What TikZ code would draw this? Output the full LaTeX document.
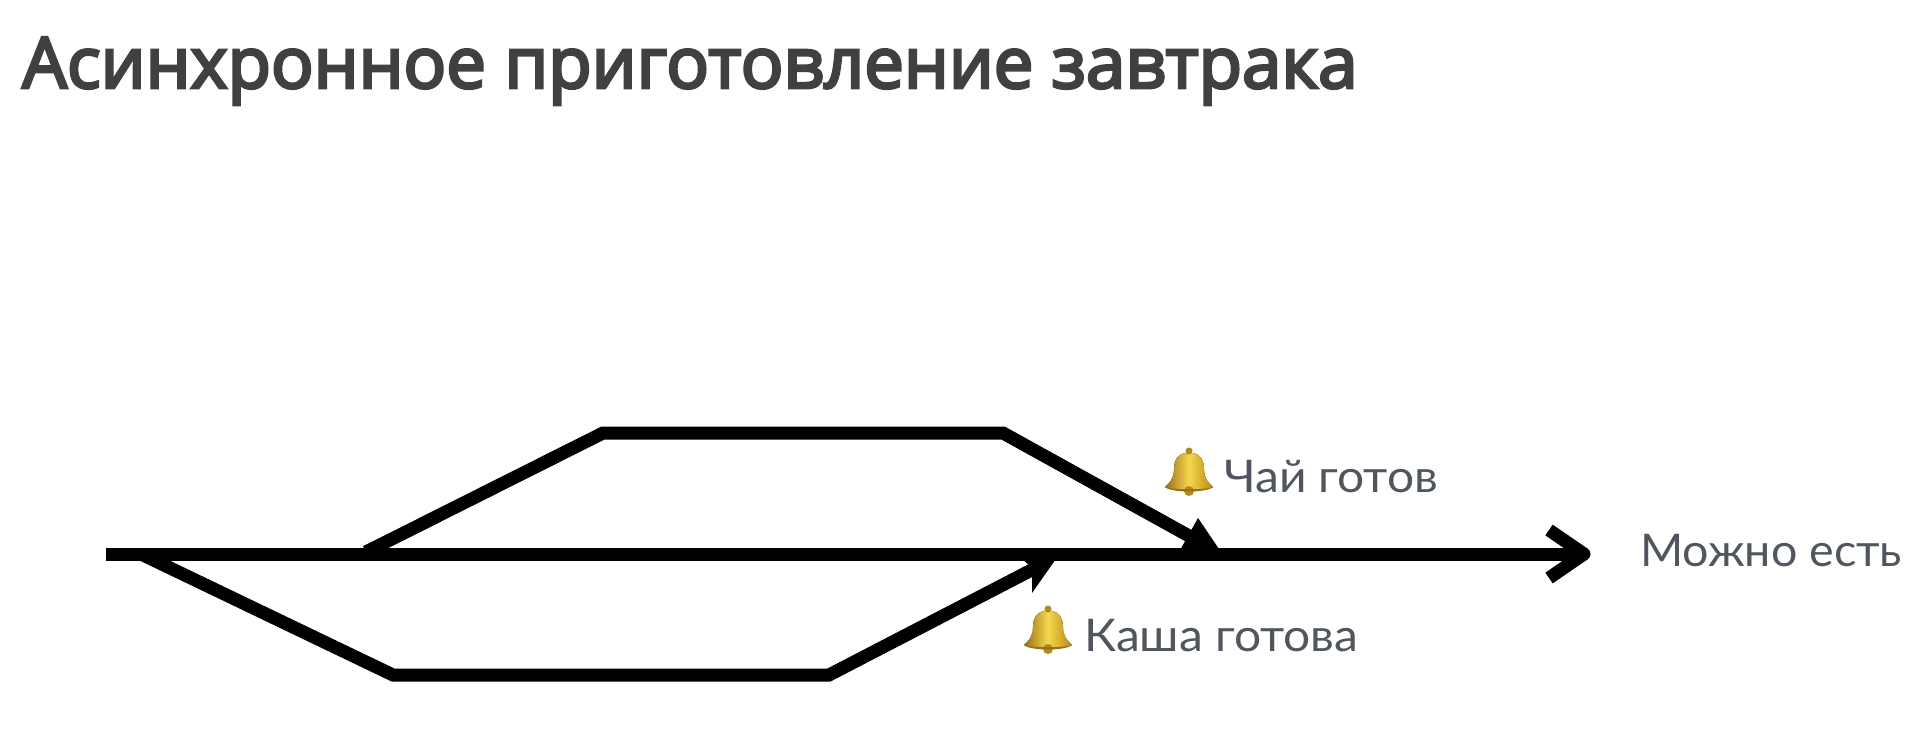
\documentclass[tikz,border=0pt]{standalone}
\usepackage{fontspec}
\setmainfont{Lato}[FakeStretch=1.065]
\newfontfamily\titlefont{Open Sans}[FakeBold=4]
\definecolor{titlegray}{HTML}{404040}
\definecolor{labelgray}{HTML}{50565F}
\definecolor{golddark}{HTML}{9A7010}
\definecolor{goldmid}{HTML}{F5D64E}
\definecolor{goldedge}{HTML}{B8890F}
\tikzset{
  track/.style={line width=13pt,draw=black,line join=miter},
  headfill/.style={fill=black,draw=none},
  lbl/.style={text=labelgray,font=\fontsize{45}{50}\selectfont,inner sep=0pt,anchor=base west},
  titletext/.style={text=titlegray,font=\titlefont\fontsize{70.8}{80}\selectfont,inner sep=0pt,anchor=base west},
  bellicon/.pic={
    \fill[left color=golddark,right color=goldedge,middle color=goldmid]
      (-3,-19) .. controls (-12,-18) and (-15,-11) .. (-15,-3)
      .. controls (-15,6) and (-19,11) .. (-24,15)
      .. controls (-18,19) and (18,19) .. (24,15)
      .. controls (19,11) and (15,6) .. (15,-3)
      .. controls (15,-11) and (12,-18) .. (3,-19) -- cycle;
    \fill[goldedge] (0,-21) circle (3.5);
    \fill[goldedge] (0,19) circle (5);
    \fill[golddark] (-24,15) .. controls (-18,21) and (18,21) .. (24,15) .. controls (18,18) and (-18,18) .. (-24,15) -- cycle;
  }
}
\begin{document}
\begin{tikzpicture}[x=1pt,y=-1pt]
\useasboundingbox (0,0) rectangle (1930,736);
\fill[white] (0,0) rectangle (1930,736);
\node[titletext] (title) at (22,88) {Асинхронное приготовление завтрака};
\coordinate (mainstart) at (106,554);
\coordinate (mainend) at (1584,554);
\coordinate (upa) at (366,552);
\coordinate (upb) at (603,433);
\coordinate (upc) at (1003,433);
\coordinate (upd) at (1200,542);
\coordinate (loa) at (143,555);
\coordinate (lob) at (393,675);
\coordinate (loc) at (829,675);
\coordinate (lod) at (1045,563);
\draw[track] (upa) -- (upb) -- (upc) -- (upd);
\draw[track] (loa) -- (lob) -- (loc) -- (lod);
\draw[track] (mainstart) -- (mainend);
\draw[track,line join=round] (1549,530) -- (mainend) -- (1549,578);
\fill[headfill] (1198,518) -- (1179,552) -- (1221,552) -- cycle;
\fill[headfill] (1019,556) -- (1058,556) -- (1032,593) -- (1032,568) -- cycle;
\pic at (1189,472) {bellicon};
\pic at (1048,630) {bellicon};
\node[lbl] (tea) at (1224,492) {Чай готов};
\node[lbl] (porridge) at (1084,651) {Каша готова};
\node[lbl,xscale=.972] (eat) at (1640,566) {Можно есть};
\end{tikzpicture}
\end{document}
